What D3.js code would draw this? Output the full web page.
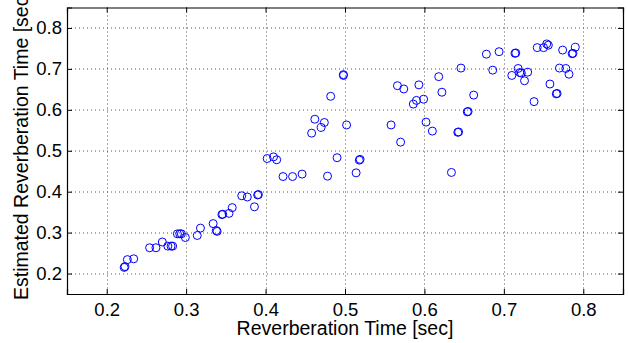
<!DOCTYPE html>
<html>
<head>
<meta charset="utf-8">
<script src="https://cdn.jsdelivr.net/npm/d3@7"></script>
<style>
  body { margin: 0; background: #fff; }
  text { font-family: "Liberation Sans", Arial, Helvetica, sans-serif; fill: #000; }
</style>
</head>
<body>
<div id="chart"></div>
<script>
// true reverberation time (x) vs estimated (y)
const xVals = [
  0.222, 0.223, 0.226, 0.234, 0.254, 0.262, 0.270, 0.277, 0.281, 0.283,
  0.289, 0.292, 0.294, 0.299, 0.314, 0.318, 0.334, 0.338, 0.339, 0.346,
  0.345, 0.354, 0.358, 0.370, 0.377, 0.386, 0.390, 0.391, 0.402, 0.410,
  0.414, 0.422, 0.434, 0.446, 0.478, 0.514, 0.490, 0.518, 0.519, 0.458,
  0.462, 0.470, 0.474, 0.482, 0.498, 0.498, 0.502, 0.558, 0.570, 0.566,
  0.574, 0.593, 0.586, 0.590, 0.599, 0.602, 0.610, 0.618, 0.622, 0.634,
  0.642, 0.643, 0.646, 0.654, 0.655, 0.662, 0.678, 0.686, 0.694, 0.710,
  0.714, 0.715, 0.718, 0.722, 0.720, 0.726, 0.730, 0.738, 0.742, 0.750,
  0.754, 0.756, 0.758, 0.766, 0.767, 0.770, 0.774, 0.778, 0.782, 0.786,
  0.787, 0.790
];
const yVals = [
  0.215, 0.217, 0.234, 0.236, 0.263, 0.263, 0.277, 0.267, 0.267, 0.267,
  0.297, 0.297, 0.297, 0.288, 0.293, 0.311, 0.322, 0.305, 0.303, 0.345,
  0.344, 0.347, 0.361, 0.390, 0.387, 0.363, 0.392, 0.393, 0.481, 0.485,
  0.478, 0.437, 0.437, 0.443, 0.438, 0.446, 0.483, 0.477, 0.479, 0.543,
  0.577, 0.557, 0.569, 0.633, 0.684, 0.686, 0.563, 0.563, 0.521, 0.659,
  0.651, 0.661, 0.614, 0.623, 0.626, 0.570, 0.548, 0.681, 0.643, 0.447,
  0.545, 0.546, 0.702, 0.595, 0.596, 0.636, 0.736, 0.697, 0.742, 0.684,
  0.738, 0.739, 0.701, 0.690, 0.691, 0.671, 0.692, 0.620, 0.752, 0.752,
  0.761, 0.758, 0.663, 0.639, 0.640, 0.702, 0.746, 0.701, 0.687, 0.737,
  0.738, 0.753
];
const xTicks = [0.2, 0.3, 0.4, 0.5, 0.6, 0.7, 0.8];
const yTicks = [0.2, 0.3, 0.4, 0.5, 0.6, 0.7, 0.8];
const xLabel = "Reverberation Time [sec]";
const yLabel = "Estimated Reverberation Time [sec]";

const W = 628, H = 343;
const margin = {top: 7.5, right: 5, bottom: 49, left: 67};
const width = W - margin.left - margin.right,
  height = H - margin.top - margin.bottom;

const svg = d3.select("#chart").append("svg")
  .attr("width", W).attr("height", H);
const g = svg.append("g")
  .attr("transform", "translate(" + margin.left + "," + margin.top + ")");

const x = d3.scaleLinear().domain([0.15, 0.85]).range([0, width]);
const y = d3.scaleLinear().domain([0.15, 0.85]).range([height, 0]);

// dotted grid
g.append("g").selectAll("line").data(xTicks).enter().append("line")
  .attr("x1", d => Math.round(x(d)) + 0.5).attr("x2", d => Math.round(x(d)) + 0.5)
  .attr("y1", 0).attr("y2", height)
  .attr("stroke", "#555").attr("stroke-dasharray", "1,3");
g.append("g").selectAll("line").data(yTicks).enter().append("line")
  .attr("y1", d => Math.round(y(d)) + 0.5).attr("y2", d => Math.round(y(d)) + 0.5)
  .attr("x1", 0).attr("x2", width)
  .attr("stroke", "#555").attr("stroke-dasharray", "1,3");

// axes with inward ticks, MATLAB-ish
const fmt = d3.format(".1f");
const axB = g.append("g").attr("transform", "translate(0," + height + ")")
  .call(d3.axisBottom(x).tickValues(xTicks).tickFormat(fmt).tickSize(-5).tickPadding(9));
const axT = g.append("g")
  .call(d3.axisTop(x).tickValues(xTicks).tickFormat("").tickSize(-5));
const axL = g.append("g")
  .call(d3.axisLeft(y).tickValues(yTicks).tickFormat(fmt).tickSize(-5).tickPadding(5));
const axR = g.append("g").attr("transform", "translate(" + width + ",0)")
  .call(d3.axisRight(y).tickValues(yTicks).tickFormat("").tickSize(-5));
[axB, axT, axL, axR].forEach(a => {
  a.select(".domain").attr("stroke", "#000").attr("stroke-width", 1.2);
  a.selectAll(".tick line").attr("stroke", "#000");
  a.selectAll(".tick text").attr("font-size", 18.5)
    .attr("font-family", "Liberation Sans, Arial, sans-serif");
});

// markers
g.append("g").selectAll("circle").data(xVals).enter().append("circle")
  .attr("cx", (d, i) => x(d))
  .attr("cy", (d, i) => y(yVals[i]))
  .attr("r", 4)
  .attr("fill", "none")
  .attr("stroke", "#0000ff")
  .attr("stroke-width", 1);

// labels
svg.append("text")
  .attr("x", margin.left + x(0.5)).attr("y", 335)
  .attr("text-anchor", "middle").attr("font-size", 19.5)
  .text(xLabel);
svg.append("text")
  .attr("transform", "translate(28,300) rotate(-90)")
  .attr("text-anchor", "start").attr("font-size", 19.5)
  .text(yLabel);
</script>
</body>
</html>
